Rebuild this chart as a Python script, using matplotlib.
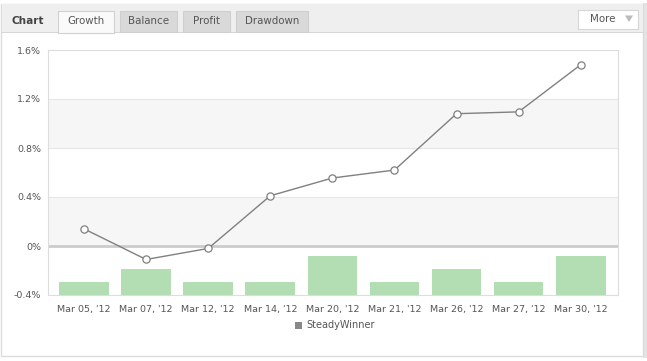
import matplotlib
matplotlib.use("Agg")
import matplotlib.pyplot as plt
from matplotlib.patches import Rectangle, Polygon
from matplotlib.ticker import FuncFormatter

categories = ["Mar 05, '12", "Mar 07, '12", "Mar 12, '12", "Mar 14, '12", "Mar 20, '12",
              "Mar 21, '12", "Mar 26, '12", "Mar 27, '12", "Mar 30, '12"]
growth = [0.14, -0.11, -0.02, 0.41, 0.555, 0.62, 1.08, 1.095, 1.48]
trades = [1, 2, 1, 1, 3, 1, 2, 1, 3]
yticks = [-0.4, 0, 0.4, 0.8, 1.2, 1.6]
tabs = ["Growth", "Balance", "Profit", "Drawdown"]
series_name = "SteadyWinner"

W, H = 647, 361
fig = plt.figure(figsize=(W / 100, H / 100), dpi=100)
fig.patch.set_facecolor("white")

def fx(px):
    return px / W

def fy(py):
    return 1 - py / H

# panel shadow / border
fig.patches.append(Rectangle((fx(643), fy(358)), fx(4), 355 / H, transform=fig.transFigure,
                             facecolor="#e4e4e4", edgecolor="none", zorder=0))
fig.patches.append(Rectangle((fx(1), fy(356)), fx(642), 352 / H, transform=fig.transFigure,
                             facecolor="white", edgecolor="#dcdcdc", lw=1, zorder=1))
# header
fig.patches.append(Rectangle((fx(1.5), fy(32)), fx(641), 27.5 / H, transform=fig.transFigure,
                             facecolor="#efefef", edgecolor="none", zorder=2))
fig.patches.append(Rectangle((fx(1.5), fy(32.5)), fx(641), 1 / H, transform=fig.transFigure,
                             facecolor="#d6d6d6", edgecolor="none", zorder=3))
fig.text(fx(12), fy(20.5), "Chart", fontsize=7.6, fontweight="bold", color="#444444",
         va="center", ha="left", zorder=5)

tab_x = [(58, 114), (120, 177), (183, 230), (236, 308)]
for i, (name, (x0, x1)) in enumerate(zip(tabs, tab_x)):
    active = i == 0
    fc = "#fafafa" if active else "#d9d9d9"
    fig.patches.append(Rectangle((fx(x0), fy(33 if active else 32)), fx(x1 - x0), (22 if active else 21) / H,
                                 transform=fig.transFigure, facecolor=fc,
                                 edgecolor="#d0d0d0" if active else "#cfcfcf", lw=0.8, zorder=4))
    fig.text(fx((x0 + x1) / 2), fy(21), name, fontsize=7.4, color="#555555",
             va="center", ha="center", zorder=6)

# More button
fig.patches.append(Rectangle((fx(578), fy(29)), fx(60), 19 / H, transform=fig.transFigure,
                             facecolor="white", edgecolor="#d6d6d6", lw=0.8, zorder=4))
fig.text(fx(603), fy(19), "More", fontsize=7.4, color="#555555", va="center", ha="center", zorder=6)
fig.patches.append(Polygon([(fx(625), fy(15.5)), (fx(633), fy(15.5)), (fx(629), fy(22))],
                           closed=True, transform=fig.transFigure, facecolor="#bbbbbb",
                           edgecolor="none", zorder=6))

# plot area
left, right, top, bottom = 48, 618, 50, 295
ax = fig.add_axes([fx(left), fy(bottom), fx(right - left), (bottom - top) / H])
ax2 = ax.twinx()
ax2.set_zorder(10)
ax.set_zorder(11)
ax.patch.set_visible(False)
ax2.patch.set_facecolor("white")

x = list(range(len(categories)))
ymin, ymax = yticks[0], yticks[-1]

# alternating bands
for lo, hi in [(0, 0.4), (0.8, 1.2)]:
    ax.axhspan(lo, hi, facecolor="#f6f6f6", edgecolor="none", zorder=0)
for t in yticks[1:-1]:
    ax.axhline(t, color="#e6e6e6", lw=0.8, zorder=0.5)
ax.axhline(0, color="#cccccc", lw=2, zorder=1)

# trades bars (secondary axis)
ax2.bar(x, trades, width=0.8, color="#b3deb3", edgecolor="none", zorder=2)
ax2.set_ylim(0, 18.85)
ax2.set_yticks([])
for s in ax2.spines.values():
    s.set_visible(False)

ax.plot(x, growth, color="#808080", lw=1.0, marker="o", markersize=5.2,
        markerfacecolor="white", markeredgecolor="#808080", markeredgewidth=0.9, zorder=3)

ax.set_ylim(ymin, ymax)
ax.set_xlim(-0.58, 8.6)
ax2.set_xlim(-0.58, 8.6)
ax.set_yticks(yticks)
ax.yaxis.set_major_formatter(FuncFormatter(lambda v, p: ("%g" % round(v, 1)) + "%"))
ax.set_xticks(x)
ax.set_xticklabels(categories)
ax.tick_params(axis="both", length=0, labelsize=6.8, labelcolor="#555555")
ax.tick_params(axis="y", pad=5)
ax.tick_params(axis="x", pad=7)
for s in ax.spines.values():
    s.set_color("#dddddd")
    s.set_linewidth(0.8)

# legend
fig.patches.append(Rectangle((fx(295), fy(329)), fx(7), 7 / H, transform=fig.transFigure,
                             facecolor="#888888", edgecolor="none", zorder=5))
fig.text(fx(306), fy(325.5), series_name, fontsize=7, color="#555555", va="center", ha="left")

fig.savefig("out.png", dpi=100, facecolor="white")
